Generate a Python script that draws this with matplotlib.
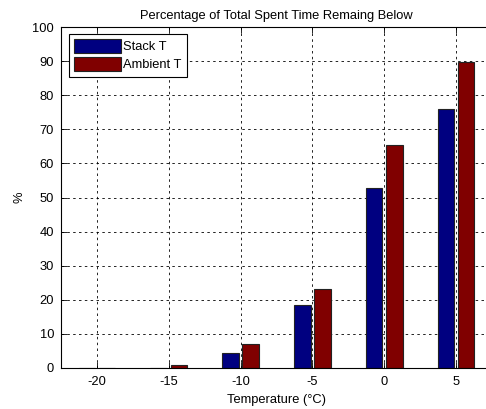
import matplotlib
matplotlib.use("Agg")
import matplotlib.pyplot as plt
import numpy as np

temps = [-20, -15, -10, -5, 0, 5]
stack_t = [0, 0, 4.3, 18.6, 52.8, 76.0]
ambient_t = [0, 0.8, 6.9, 23.3, 65.3, 89.7]
series_names = ["Stack T", "Ambient T"]
title = "Percentage of Total Spent Time Remaing Below"
xlabel = "Temperature (\u00b0C)"
ylabel = "%"

plt.rcParams['font.family'] = ['Liberation Sans', 'DejaVu Sans']
plt.rcParams['font.size'] = 9.3
plt.rcParams['axes.unicode_minus'] = False

fig = plt.figure(figsize=(4.86, 4.09), dpi=100)
# axes: left 61px, right 492px (clipped), top 27px, bottom 368px
W, H = 486, 409
ax = fig.add_axes([61 / W, (H - 368) / H, (492 - 61) / W, (368 - 27) / H])

x = np.array(temps, dtype=float)
off = 0.7
bw = 1.15
ax.bar(x - off, stack_t, width=bw, color='#000080', edgecolor='#222222', linewidth=0.8, label=series_names[0])
ax.bar(x + off, ambient_t, width=bw, color='#800000', edgecolor='#222222', linewidth=0.8, label=series_names[1])

ax.set_xlim(-22.5, 7.5)
ax.set_ylim(0, 100)
ax.set_xticks(temps)
ax.set_yticks(np.arange(0, 101, 10))
ax.set_axisbelow(True)
ax.grid(True, linestyle=(0, (3, 4)), color='black', linewidth=0.6)
ax.tick_params(direction='in', top=True, right=True, length=4, width=0.6, labelsize=9.3)
ax.tick_params(axis='x', pad=6)
ax.tick_params(axis='y', pad=5)
for s in ax.spines.values():
    s.set_linewidth(0.8)

ax.set_title(title, fontsize=9.3, pad=6)
ax.set_xlabel(xlabel, fontsize=9.3, labelpad=4)
ax.set_ylabel(ylabel, fontsize=9.3)
ax.yaxis.set_label_coords(-0.082, 0.5)

leg = ax.legend(loc='upper left', bbox_to_anchor=(8 / 431, 1 - 7 / 341), fancybox=False,
                edgecolor='black', framealpha=1, handlelength=3.6, handleheight=1.25,
                borderpad=0.4, labelspacing=0.3, handletextpad=0.2, fontsize=9.3,
                borderaxespad=0)
leg.get_frame().set_linewidth(0.8)

fig.savefig("out.png", dpi=100)
